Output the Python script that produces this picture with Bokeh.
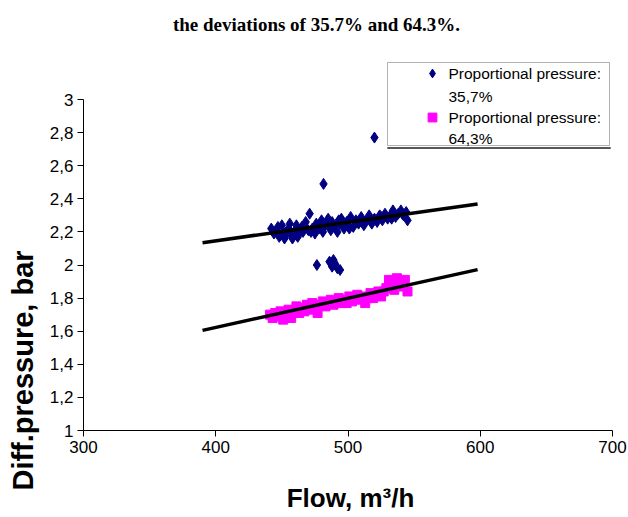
import math
from bokeh.plotting import figure
from bokeh.models import (Label, Legend, LegendItem, BoxAnnotation,
                          FixedTicker, CustomJSTickFormatter, Range1d)
from bokeh.embed import file_html
from bokeh.resources import INLINE

# ---------------- data ----------------
title_text = "the deviations of 35.7% and 64.3%."
x_label = "Flow, m\u00b3/h"
y_label = "Diff.pressure, bar"
series_names = ["Proportional pressure:\n35,7%", "Proportional pressure:\n64,3%"]

x_ticks = [300, 400, 500, 600, 700]
y_ticks = [1.0, 1.2, 1.4, 1.6, 1.8, 2.0, 2.2, 2.4, 2.6, 2.8, 3.0]

blue_flow = [442, 444, 446, 448, 450, 451, 453, 455, 456, 458, 460, 461, 463, 465,
             466, 468, 470, 471, 473, 475, 476, 478, 480, 481, 483, 485, 487, 488,
             490, 492, 494, 495, 497, 499, 500, 502, 504, 506, 508, 510, 512, 514,
             516, 518, 520, 522, 524, 526, 528, 530, 532, 534, 536, 538, 540, 542,
             544, 545, 447, 452, 457, 462, 467, 472, 479, 486, 493, 501, 509, 517,
             525, 533, 541,
             481.5, 520, 476.5, 486, 488, 490, 492, 494, 489]
blue_pressure = [2.22, 2.19, 2.21, 2.17, 2.24, 2.20, 2.18, 2.22, 2.25, 2.16, 2.21, 2.24,
                 2.19, 2.23, 2.20, 2.26, 2.21, 2.31, 2.22, 2.19, 2.25, 2.22, 2.27, 2.20,
                 2.24, 2.28, 2.21, 2.26, 2.23, 2.20, 2.25, 2.28, 2.22, 2.26, 2.24, 2.29,
                 2.23, 2.27, 2.25, 2.29, 2.24, 2.27, 2.30, 2.25, 2.28, 2.26, 2.30, 2.27,
                 2.31, 2.28, 2.30, 2.33, 2.29, 2.31, 2.33, 2.30, 2.32, 2.27, 2.23, 2.16,
                 2.18, 2.17, 2.23, 2.20, 2.24, 2.23, 2.27, 2.22, 2.27, 2.27, 2.29, 2.28,
                 2.31,
                 2.49, 2.77, 2.00, 2.02, 1.99, 2.01, 1.98, 1.97, 2.03]

mag_flow = [441, 443, 445, 447, 449, 451, 453, 455, 457, 459, 461, 463, 465, 467, 469,
            471, 473, 475, 477, 479, 481, 483, 485, 487, 489, 491, 493, 495, 497, 499,
            501, 503, 505, 507, 509, 511, 513, 515, 517, 519, 521, 523, 525, 527, 529,
            531, 533, 535, 537, 539, 541, 543, 545]
mag_pressure = [1.70, 1.68, 1.71, 1.69, 1.72, 1.67, 1.71, 1.73, 1.68, 1.72, 1.75, 1.71,
                1.74, 1.72, 1.76, 1.73, 1.77, 1.74, 1.71, 1.76, 1.78, 1.75, 1.77, 1.79,
                1.76, 1.78, 1.80, 1.77, 1.79, 1.77, 1.81, 1.78, 1.80, 1.82, 1.79, 1.81,
                1.77, 1.80, 1.83, 1.80, 1.82, 1.84, 1.81, 1.84, 1.86, 1.91, 1.88, 1.85,
                1.92, 1.89, 1.87, 1.91, 1.84]

trend_flow = [390, 598]
trend_upper = [2.135, 2.369]
trend_lower = [1.605, 1.972]

# ---------------- layout (pixels) ----------------
W, H = 628, 517
AX_L, AX_R = 83, 612      # pixel columns of x = 300 and x = 700
AX_T, AX_B = 99, 430      # pixel rows of y = 3 and y = 1
X0, X1 = x_ticks[0], x_ticks[-1]
Y0, Y1 = y_ticks[0], y_ticks[-1]
kx = (AX_R - AX_L) / (X1 - X0)
ky = (AX_B - AX_T) / (Y1 - Y0)
x_range = Range1d(X0 - AX_L / kx, X1 + (W - AX_R) / kx)
y_range = Range1d(Y0 - (H - AX_B) / ky, Y1 + AX_T / ky)

FONT = "Liberation Sans"
p = figure(width=W, height=H, output_backend="svg", toolbar_location=None,
           x_range=x_range, y_range=y_range,
           min_border_left=0, min_border_right=0, min_border_top=0,
           min_border_bottom=0)
p.outline_line_color = None
p.grid.visible = False
p.background_fill_color = "white"
p.border_fill_color = "white"

for ax in (p.xaxis[0], p.yaxis[0]):
    ax.axis_line_color = "black"
    ax.major_tick_line_color = "black"
    ax.major_tick_out = 6
    ax.major_tick_in = 0
    ax.minor_tick_line_color = None
    ax.major_label_text_font = FONT
    ax.major_label_text_font_size = "17px"
    ax.major_label_text_color = "black"
    ax.major_label_standoff = 4

p.xaxis.ticker = FixedTicker(ticks=x_ticks)
p.yaxis.ticker = FixedTicker(ticks=y_ticks)
p.xaxis.bounds = (X0, X1)
p.yaxis.bounds = (Y0, Y1)
p.xaxis.fixed_location = Y0
p.yaxis.fixed_location = X0
p.yaxis.formatter = CustomJSTickFormatter(
    code="return (Math.round(tick*10)/10).toString().replace('.', ',');")

r_blue = p.scatter(blue_flow, blue_pressure, marker="diamond", size=11,
                   fill_color="#000080", line_color="#000080")
r_mag = p.scatter(mag_flow, mag_pressure, marker="square", size=9,
                  fill_color="#FF00FF", line_color="#FF00FF")
p.line(trend_flow, trend_upper, line_color="black", line_width=3.5)
p.line(trend_flow, trend_lower, line_color="black", line_width=3.5)

# screen units: origin at canvas bottom-left (frame == canvas)
def sy(py):
    return H - py

LB_L, LB_R, LB_T, LB_B = 387, 609, 62, 145
p.add_layout(BoxAnnotation(left=LB_L, right=LB_R, top=sy(LB_T), bottom=sy(LB_B),
                           left_units="screen", right_units="screen",
                           top_units="screen", bottom_units="screen",
                           fill_color="white", fill_alpha=1.0,
                           line_color="black", line_width=1))
p.add_layout(BoxAnnotation(left=LB_L, right=LB_R + 1, top=sy(LB_B + 2), bottom=sy(LB_B + 3),
                           left_units="screen", right_units="screen",
                           top_units="screen", bottom_units="screen",
                           fill_color="black", fill_alpha=1.0,
                           line_color="black", line_width=1))

legend = Legend(items=[LegendItem(label=" ", renderers=[r_blue]),
                       LegendItem(label=" ", renderers=[r_mag])],
                location=(432 - 11, sy(117 + 11)), padding=0, spacing=22,
                glyph_width=22, glyph_height=22, label_standoff=0,
                border_line_color=None, background_fill_alpha=0,
                label_text_font_size="15px")
p.add_layout(legend)

leg_lines = []
for name in series_names:
    leg_lines.extend(name.split("\n"))
for txt, ypg in zip(leg_lines, [73, 96, 117, 138]):
    p.add_layout(Label(x=448, y=sy(ypg), x_units="screen", y_units="screen",
                       text=txt, text_font=FONT, text_font_size="15.5px",
                       text_baseline="middle", text_align="left", text_color="black"))

p.add_layout(Label(x=316, y=sy(24), x_units="screen", y_units="screen",
                   text=title_text, text_font="Liberation Serif", text_font_style="bold",
                   text_font_size="19px", text_align="center", text_baseline="middle",
                   text_color="black"))
p.add_layout(Label(x=22, y=sy(370), x_units="screen", y_units="screen",
                   text=y_label, text_font=FONT, text_font_style="bold",
                   text_font_size="29px", text_align="center", text_baseline="middle",
                   angle=math.pi / 2, text_color="black"))
p.add_layout(Label(x=350, y=sy(497), x_units="screen", y_units="screen",
                   text=x_label, text_font=FONT, text_font_style="bold",
                   text_font_size="26px", text_align="center", text_baseline="middle",
                   text_color="black"))

open("out.html", "w").write(file_html(p, INLINE))
